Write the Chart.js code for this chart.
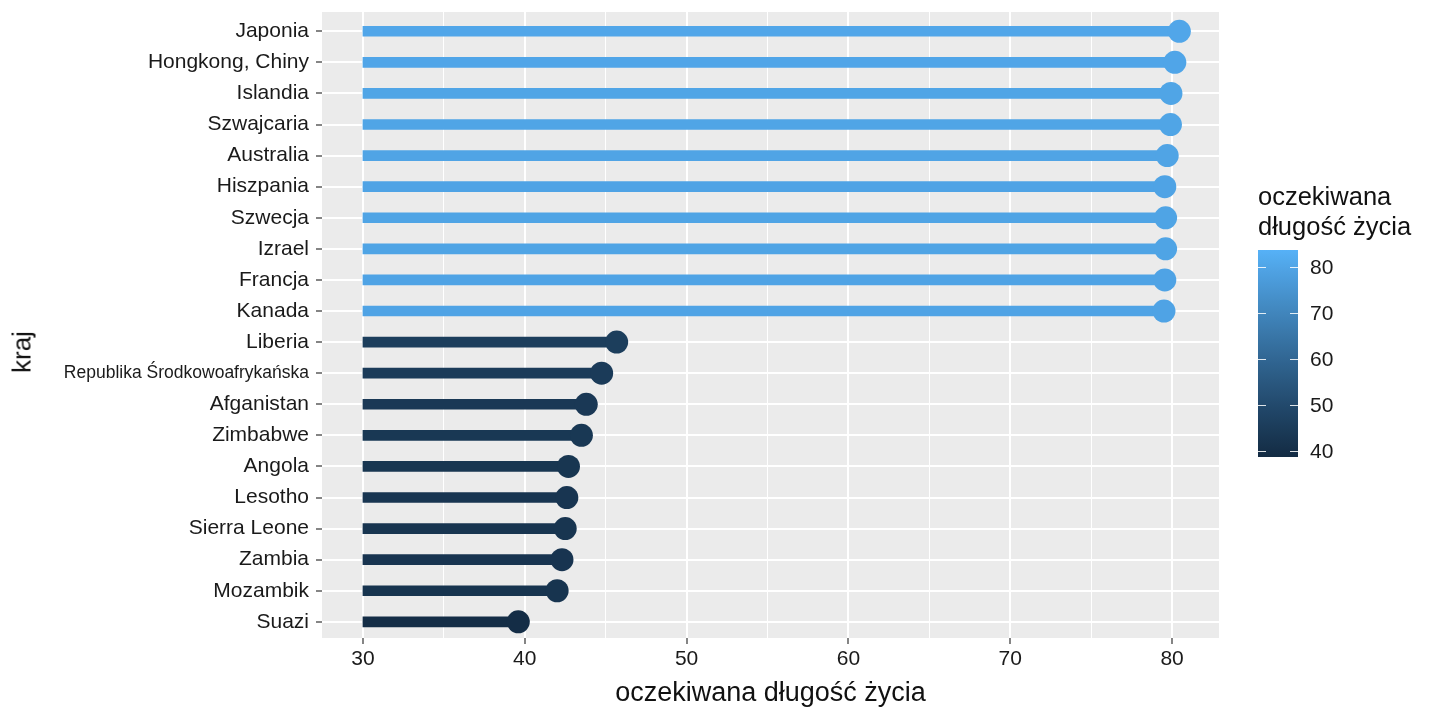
<!DOCTYPE html>
<html>
<head>
<meta charset="utf-8">
<script src="https://cdn.jsdelivr.net/npm/chart.js@4.4.1/dist/chart.umd.min.js"></script>
<style>
  html, body { margin:0; padding:0; background:#fff; }
  #wrap { position:relative; width:1440px; height:720px; font-family:'Liberation Sans', Arial, sans-serif; }
  #c { position:absolute; left:0; top:0; }
  .ov { position:absolute; color:#111; white-space:nowrap; }
</style>
</head>
<body>
<div id="wrap">
  <canvas id="c" width="1440" height="720"></canvas>
  <div id="ytitle" class="ov" style="left:22px;top:352px;font-size:26px;transform:translate(-50%,-50%) rotate(-90deg);">kraj</div>
  <div id="legend"></div>
</div>
<script>
// ---- data ----
const countries = ['Japonia','Hongkong, Chiny','Islandia','Szwajcaria','Australia','Hiszpania','Szwecja','Izrael','Francja','Kanada','Liberia','Republika Środkowoafrykańska','Afganistan','Zimbabwe','Angola','Lesotho','Sierra Leone','Zambia','Mozambik','Suazi'];
const lifeExp = [80.45, 80.17, 79.93, 79.9, 79.7, 79.55, 79.6, 79.6, 79.55, 79.5, 45.68, 44.75, 43.8, 43.5, 42.7, 42.6, 42.5, 42.3, 42.0, 39.6];
const stemBase = 30;
const xTickValues = [30, 35, 40, 45, 50, 55, 60, 65, 70, 75, 80];
const colorLimits = [38.7, 83.7];
const legendTicks = [40, 50, 60, 70, 80];
const legendTitle = ['oczekiwana', 'długość życia'];
const xTitle = 'oczekiwana długość życia';

// ---- colour gradient (Lab interpolation like ggplot) ----
const lowHex = '#132B43', highHex = '#56B1F7';
function hexToRgb(h){ return [1,3,5].map(i=>parseInt(h.substr(i,2),16)); }
function srgbToLin(c){ c/=255; return c<=0.04045? c/12.92 : Math.pow((c+0.055)/1.055,2.4); }
function linToSrgb(c){ c = c<=0.0031308? 12.92*c : 1.055*Math.pow(c,1/2.4)-0.055; return Math.max(0,Math.min(255,Math.round(c*255))); }
const Wn=[0.95047,1,1.08883];
function rgbToLab(rgb){
  const [r,g,b]=rgb.map(srgbToLin);
  const X=(r*0.4124+g*0.3576+b*0.1805)/Wn[0], Y=(r*0.2126+g*0.7152+b*0.0722)/Wn[1], Z=(r*0.0193+g*0.1192+b*0.9505)/Wn[2];
  const f=t=>t>0.008856? Math.cbrt(t) : 7.787*t+16/116;
  const fx=f(X),fy=f(Y),fz=f(Z);
  return [116*fy-16, 500*(fx-fy), 200*(fy-fz)];
}
function labToRgb(lab){
  const fy=(lab[0]+16)/116, fx=fy+lab[1]/500, fz=fy-lab[2]/200;
  const fi=t=>t>0.206893? t*t*t : (t-16/116)/7.787;
  const X=fi(fx)*Wn[0], Y=fi(fy)*Wn[1], Z=fi(fz)*Wn[2];
  const r= 3.2406*X-1.5372*Y-0.4986*Z, g=-0.9689*X+1.8758*Y+0.0415*Z, b=0.0557*X-0.2040*Y+1.0570*Z;
  return [linToSrgb(r),linToSrgb(g),linToSrgb(b)];
}
const labLow=rgbToLab(hexToRgb(lowHex)), labHigh=rgbToLab(hexToRgb(highHex));
function colorFor(v){
  let t=(v-colorLimits[0])/(colorLimits[1]-colorLimits[0]); t=Math.max(0,Math.min(1,t));
  const lab=labLow.map((l,i)=>l+(labHigh[i]-l)*t);
  const c=labToRgb(lab); return `rgb(${c[0]},${c[1]},${c[2]})`;
}
const pointColors = lifeExp.map(colorFor);

// ---- layout constants ----
const FONT = "'Liberation Sans', Arial, sans-serif";
const AREA = {left:322, right:1219, top:12, bottom:638};

const panelBg = {
  id:'panelBg',
  beforeDraw(chart){
    const {ctx, chartArea:a} = chart;
    ctx.save(); ctx.fillStyle='#EBEBEB';
    ctx.fillRect(a.left, a.top, a.right-a.left, a.bottom-a.top);
    ctx.restore();
  }
};

new Chart(document.getElementById('c'), {
  type:'bar',
  data:{
    datasets:[
      {
        type:'bar',
        indexAxis:'y',
        data: countries.map((c,i)=>({x:[stemBase, lifeExp[i]], y:i})),
        backgroundColor: pointColors,
        borderWidth:0,
        barThickness:10,
        order:2
      },
      {
        type:'scatter',
        indexAxis:'x',
        data: countries.map((c,i)=>({x:lifeExp[i], y:i})),
        backgroundColor: pointColors,
        borderWidth:0,
        pointRadius:11.5,
        pointHoverRadius:11.5,
        order:1
      }
    ]
  },
  options:{
    responsive:false,
    animation:false,
    indexAxis:'y',
    layout:{ padding:{ left:0, top:AREA.top, right:1440-AREA.right, bottom:0 } },
    plugins:{ legend:{display:false}, tooltip:{enabled:false} },
    events:[],
    scales:{
      x:{
        type:'linear',
        position:'bottom',
        offset:false,
        min:27.47, max:82.9,
        afterFit(s){ s.height = 720-AREA.bottom; s.paddingLeft=0; s.paddingRight=0; },
        afterBuildTicks(s){ s.ticks = xTickValues.map(v=>({value:v})); },
        border:{display:false},
        grid:{
          offset:false,
          color:'#FFFFFF',
          lineWidth: c => (c.tick && c.tick.value%10===0) ? 2 : 1,
          drawTicks:true,
          tickLength:6,
          tickWidth:1.2,
          tickColor: c => (c.tick && c.tick.value%10===0) ? '#333333' : 'rgba(0,0,0,0)'
        },
        ticks:{
          autoSkip:false, maxRotation:0,
          padding:3,
          color:'#1a1a1a',
          font:{family:FONT, size:21},
          callback: v => (v%10===0 ? String(v) : '')
        },
        title:{ display:true, text:xTitle, color:'#111', font:{family:FONT, size:27}, padding:{top:0,bottom:10} }
      },
      y:{
        type:'linear',
        position:'left',
        offset:false,
        reverse:true,
        min:-0.62, max:19.52,
        afterFit(s){ s.width = AREA.left; s.paddingTop=0; s.paddingBottom=0; },
        afterBuildTicks(s){ s.ticks = countries.map((c,i)=>({value:i})); },
        border:{display:false},
        grid:{ offset:false, color:'#FFFFFF', lineWidth:2, tickLength:6, tickWidth:1.2, tickColor:'#333333' },
        ticks:{
          autoSkip:false,
          padding:7,
          color:'#1a1a1a',
          font: c => ({family:FONT, size: (c.tick && countries[c.tick.value] && countries[c.tick.value].length>20) ? 17.5 : 21}),
          callback: v => countries[v] ?? ''
        }
      }
    }
  },
  plugins:[panelBg]
});

// ---- colour bar legend (HTML) ----
(function(){
  const lg = document.getElementById('legend');
  const barLeft=1258, barTop=250, barW=40, barH=207;
  const title = document.createElement('div');
  title.className='ov';
  title.style.cssText = `left:${barLeft}px;top:181px;font-size:25.5px;line-height:30px;`;
  title.innerHTML = legendTitle.join('<br>');
  lg.appendChild(title);
  const stops=[];
  for(let k=0;k<=20;k++){ const v=colorLimits[0]+(colorLimits[1]-colorLimits[0])*k/20; stops.push(`${colorFor(v)} ${k*5}%`); }
  const bar=document.createElement('div');
  bar.style.cssText=`position:absolute;left:${barLeft}px;top:${barTop}px;width:${barW}px;height:${barH}px;background:linear-gradient(to top, ${stops.join(',')});`;
  lg.appendChild(bar);
  legendTicks.forEach(v=>{
    const y = barTop + barH - (v-colorLimits[0])/(colorLimits[1]-colorLimits[0])*barH;
    [barLeft, barLeft+barW-8].forEach(x=>{
      const t=document.createElement('div');
      t.style.cssText=`position:absolute;left:${x}px;top:${y-0.5}px;width:8px;height:1px;background:rgba(255,255,255,0.85);`;
      lg.appendChild(t);
    });
    const lab=document.createElement('div');
    lab.className='ov';
    lab.style.cssText=`left:${barLeft+barW+12}px;top:${y}px;transform:translateY(-50%);font-size:21px;color:#1a1a1a;`;
    lab.textContent=String(v);
    lg.appendChild(lab);
  });
})();
</script>
</body>
</html>
